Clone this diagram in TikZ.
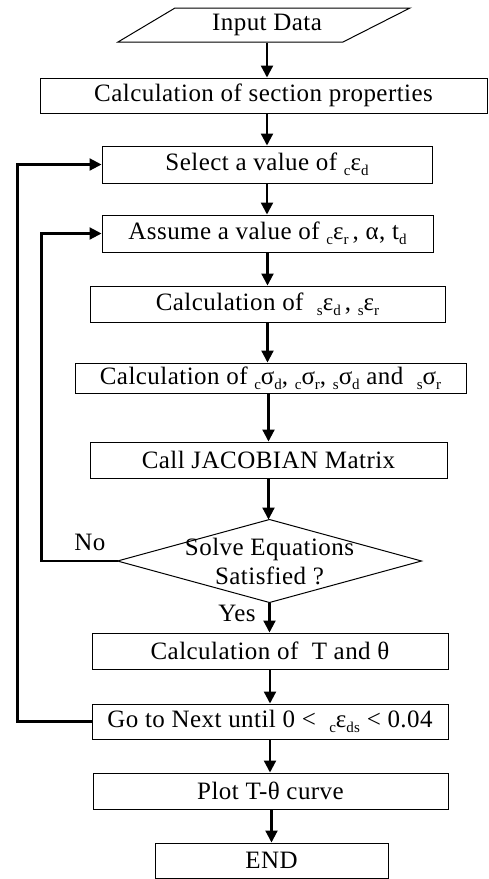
\documentclass[tikz,border=0pt]{standalone}
\usepackage{fontspec}
\setmainfont[LetterSpace=1.8]{Liberation Serif}
\usetikzlibrary{arrows.meta}
\newcommand{\dn}[1]{\raisebox{-5pt}{\fontsize{15}{15}\selectfont #1}}

\begin{document}
\begin{tikzpicture}[x=1pt, y=-1pt, line width=1pt,
  >={Triangle[length=12pt, width=12pt]},
  txt/.style={inner sep=0pt, font=\fontsize{25}{29}\selectfont},
  box/.style={txt, draw, rectangle, minimum height=36pt},
  flow/.style={->, line width=2.2pt}]
  \useasboundingbox (0,0) rectangle (489,879);
  % input data (parallelogram)
  \draw (118,42) -- (175,8) -- (410,8) -- (343,42) -- cycle;
  \node[txt, minimum height=34pt] (input) at (267,25) {Input Data};
  % main column
  \node[box, minimum width=447pt, minimum height=35pt] (sec) at (263.5,95.5) {Calculation of section properties};
  \node[box, minimum width=330pt, minimum height=37pt] (sel) at (267,164.5) {Select a value of \dn{c}ε\dn{d}};
  \node[box, minimum width=331pt, minimum height=37pt] (asm) at (267.5,233.5) {Assume a value of \dn{c}ε\dn{r}\,, α, t\dn{d}};
  \node[box, minimum width=355pt] (seps) at (267.5,304) {Calculation of \ \dn{s}ε\dn{d}\,, \dn{s}ε\dn{r}};
  \node[box, minimum width=391pt, minimum height=30pt] (sig) at (270.5,378) {Calculation of \dn{c}σ\dn{d}, \dn{c}σ\dn{r}, \dn{s}σ\dn{d} and \ \dn{s}σ\dn{r}};
  \node[box, minimum width=357pt] (jac) at (268.5,460) {Call JACOBIAN Matrix};
  % decision (diamond drawn on the node's anchors)
  \node[txt, minimum width=303pt, minimum height=82pt, align=center] (dec) at (269.5,561) {Solve Equations\\Satisfied ?};
  \draw (dec.north) -- (dec.east) -- (dec.south) -- (dec.west) -- cycle;
  \node[box, minimum width=356pt] (tth) at (270,651) {Calculation of \ T and θ};
  \node[box, minimum width=356pt, minimum height=35pt] (nxt) at (270,721.5) {Go to Next until 0 < \ \dn{c}ε\dn{ds} < 0.04};
  \node[box, minimum width=355pt] (plt) at (270.5,791) {Plot T-θ curve};
  \node[box, minimum width=233pt, minimum height=35pt] (fin) at (271.5,860.5) {END};
  % branch labels
  \node[txt] (no) at (90,542) {No};
  \node[txt] (yes) at (237,613) {Yes};
  % arrows down the column
  \draw[flow] (input.south) -- (input.south |- sec.north);
  \draw[flow] (sec.south -| sel.north) -- (sel.north);
  \draw[flow] (sel.south) -- (sel.south |- asm.north);
  \draw[flow] (asm.south) -- (asm.south |- seps.north);
  \draw[flow] (seps.south) -- (seps.south |- sig.north);
  \draw[flow] (sig.south -| jac.north) -- (jac.north);
  \draw[flow] (jac.south) -- (jac.south |- dec.north);
  \draw[flow] (dec.south) -- (dec.south |- tth.north);
  \draw[flow] (tth.south) -- (nxt.north);
  \draw[flow] (nxt.south) -- (nxt.south |- plt.north);
  \draw[flow] (plt.south -| fin.north) -- (fin.north);
  % loops back
  \draw[flow] (dec.west) -- ++(-76,0) |- (asm.west);
  \draw[flow] (nxt.west) -- ++(-74,0) |- (sel.west);
\end{tikzpicture}
\end{document}
